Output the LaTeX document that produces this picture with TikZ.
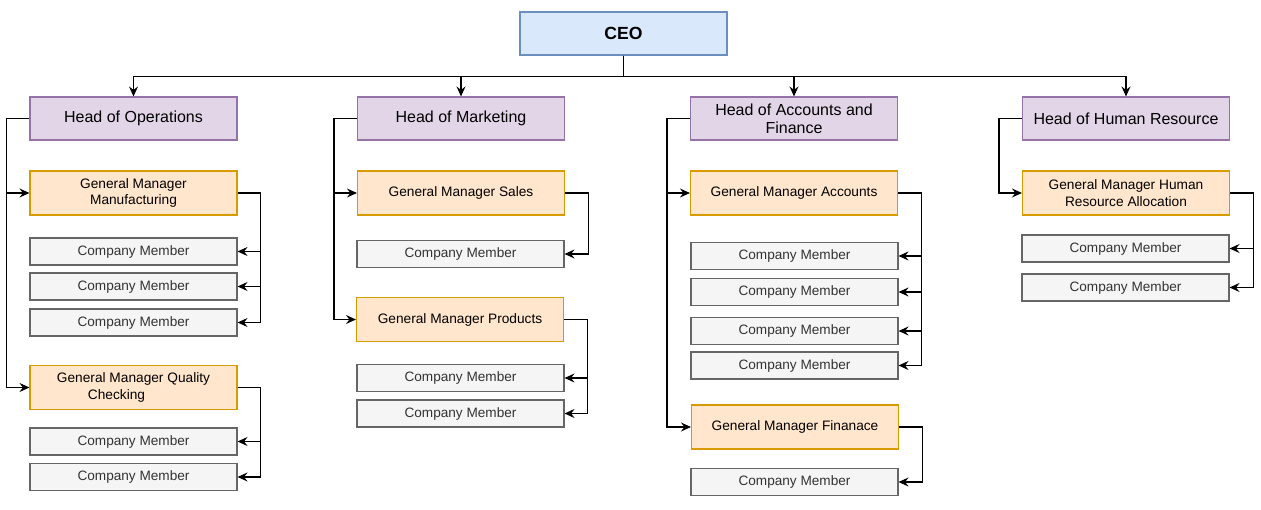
\documentclass[tikz,border=0pt]{standalone}
\usepackage{fontspec}
\setmainfont{Liberation Sans}
\usetikzlibrary{arrows.meta}
\definecolor{ceofill}{HTML}{DAE8FC}
\definecolor{ceoline}{HTML}{6C8EBF}
\definecolor{headfill}{HTML}{E1D5E7}
\definecolor{headline}{HTML}{9673A6}
\definecolor{gmfill}{HTML}{FFE6CC}
\definecolor{gmline}{HTML}{D79B00}
\definecolor{cmfill}{HTML}{F5F5F5}
\definecolor{cmline}{HTML}{666666}
\definecolor{cmtext}{HTML}{333333}
\tikzset{
  base/.style={draw, line width=1.1pt, inner sep=0pt, align=center, minimum width=207pt},
  ceobox/.style={base, fill=ceofill, draw=ceoline, minimum height=43pt, font=\fontsize{17.6}{20}\selectfont\bfseries},
  headbox/.style={base, fill=headfill, draw=headline, minimum height=43pt, font=\fontsize{16}{18}\selectfont},
  gmbox/.style={base, fill=gmfill, draw=gmline, minimum height=44pt, font=\fontsize{13.7}{16.7}\selectfont},
  cmbox/.style={base, fill=cmfill, draw=cmline, minimum height=27pt, text=cmtext, font=\fontsize{13.6}{16}\selectfont},
  conn/.style={draw=black, line width=1.1pt, -{Stealth[length=10pt,width=9pt,inset=3.5pt]}}
}
\begin{document}
\begin{tikzpicture}[x=1pt,y=-1pt]
\useasboundingbox (0,0) rectangle (1261,510);
% CEO
\node[ceobox] (ceo) at (623.5,33.5) {CEO};
% Heads
\node[headbox] (hop) at (133.5,118.5) {Head of Operations};
\node[headbox] (hmk) at (461,118.5) {Head of Marketing};
\node[headbox] (hac) at (794,118.5) {Head of Accounts and\\Finance};
\node[headbox] (hhr) at (1126,118.5) {Head of Human Resource};
% Operations
\node[gmbox] (gmman) at (133.5,193) {General Manager\\Manufacturing};
\node[cmbox] (op1) at (133.5,251.5) {Company Member};
\node[cmbox] (op2) at (133.5,286.5) {Company Member};
\node[cmbox] (op3) at (133.5,322.5) {Company Member};
\node[gmbox] (gmqc) at (133.5,387.5) {General Manager Quality\\Checking\hspace*{34pt}};
\node[cmbox] (op4) at (133.5,441.5) {Company Member};
\node[cmbox] (op5) at (133.5,477) {Company Member};
% Marketing
\node[gmbox] (gmsal) at (461,193) {General Manager Sales};
\node[cmbox] (mk1) at (460.5,254) {Company Member};
\node[gmbox] (gmprod) at (460,319.5) {General Manager Products};
\node[cmbox] (mk2) at (460.5,378) {Company Member};
\node[cmbox] (mk3) at (460.5,413.5) {Company Member};
% Accounts
\node[gmbox] (gmacc) at (794,193) {General Manager Accounts};
\node[cmbox] (ac1) at (794.5,256) {Company Member};
\node[cmbox] (ac2) at (794.5,292) {Company Member};
\node[cmbox] (ac3) at (794.5,331) {Company Member};
\node[cmbox] (ac4) at (794.5,365.5) {Company Member};
\node[gmbox] (gmfin) at (795,427) {General Manager Finanace};
\node[cmbox] (ac5) at (794.5,482) {Company Member};
% HR
\node[gmbox] (gmhr) at (1126,193) {General Manager Human\\Resource Allocation};
\node[cmbox] (hr1) at (1125.5,248.5) {Company Member};
\node[cmbox] (hr2) at (1125.5,287.5) {Company Member};
% CEO bus
\foreach \h in {hop,hmk,hac,hhr}
  \draw[conn] (ceo.south) -- ++(0,21) -| (\h.north);
% Head to GM
\foreach \h/\g in {hop/gmman,hop/gmqc,hmk/gmsal,hmk/gmprod,hac/gmacc,hac/gmfin,hhr/gmhr}
  \draw[conn] (\h.west) -- ++(-23,0) |- (\g.west);
% GM to members
\foreach \g/\c in {gmman/op1,gmman/op2,gmman/op3,gmqc/op4,gmqc/op5,gmsal/mk1,gmprod/mk2,gmprod/mk3,gmacc/ac1,gmacc/ac2,gmacc/ac3,gmacc/ac4,gmfin/ac5,gmhr/hr1,gmhr/hr2}
  \draw[conn] (\g.east) -- ++(23,0) |- (\c.east);
\end{tikzpicture}
\end{document}
